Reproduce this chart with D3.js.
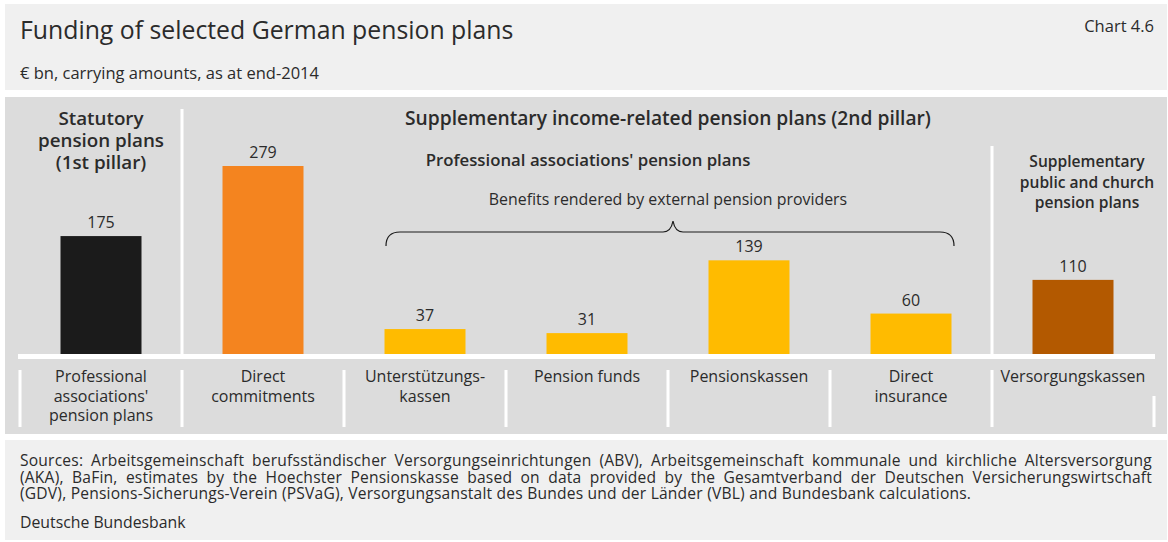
<!DOCTYPE html>
<html>
<head>
<meta charset="utf-8">
<script src="https://cdn.jsdelivr.net/npm/d3@7"></script>
<style>
  html, body { margin: 0; padding: 0; background: #ffffff; }
  svg { display: block; }
  text { font-family: "Open Sans", "Noto Sans", sans-serif; fill: #2b2b2b; }
</style>
</head>
<body>
<svg id="chart" width="1168" height="542"></svg>
<script>
// Categories along the axis (each may wrap onto several lines)
const categories = [
  ["Professional", "associations'", "pension plans"],
  ["Direct", "commitments"],
  ["Unterstützungs-", "kassen"],
  ["Pension funds"],
  ["Pensionskassen"],
  ["Direct", "insurance"],
  ["Versorgungskassen"]
];
// € bn, carrying amounts, end-2014
const values = [175, 279, 37, 31, 139, 60, 110];
// Group each bar belongs to (drives the colour)
const groups = ["statutory", "direct", "external", "external", "external", "external", "public"];
const groupColours = {
  statutory: "#1b1b1b",
  direct: "#f4841f",
  external: "#ffbb00",
  public: "#b35900"
};

const title = "Funding of selected German pension plans";
const chartNo = "Chart 4.6";
const subtitle = "€ bn, carrying amounts, as at end-2014";
const sourceLines = [
  "Sources: Arbeitsgemeinschaft berufsständischer Versorgungseinrichtungen (ABV), Arbeitsgemeinschaft kommunale und kirchliche Altersversorgung",
  "(AKA), BaFin, estimates by the Hoechster Pensionskasse based on data provided by the Gesamtverband der Deutschen Versicherungswirtschaft",
  "(GDV), Pensions-Sicherungs-Verein (PSVaG), Versorgungsanstalt des Bundes und der Länder (VBL) and Bundesbank calculations."
];
const publisher = "Deutsche Bundesbank";

const svg = d3.select("#chart");

// Background panels
svg.append("rect").attr("x", 5).attr("y", 4).attr("width", 1162).attr("height", 86).attr("fill", "#f0f0f0");
svg.append("rect").attr("x", 5).attr("y", 97).attr("width", 1162).attr("height", 337).attr("fill", "#dcdcdc");
svg.append("rect").attr("x", 5).attr("y", 440).attr("width", 1162).attr("height", 100).attr("fill", "#f0f0f0");

// Header texts
svg.append("text").attr("x", 20).attr("y", 39).attr("font-size", 24.8).attr("fill", "#1a1a1a").text(title);
svg.append("text").attr("x", 1154).attr("y", 32).attr("text-anchor", "end").attr("font-size", 16.5).text(chartNo);
svg.append("text").attr("x", 20).attr("y", 79).attr("font-size", 16.5).text(subtitle);

// Scales
const x = d3.scaleBand().domain(d3.range(categories.length)).range([20, 1154]).paddingInner(0).paddingOuter(0);
const y = d3.scaleLinear().domain([0, 279]).range([354, 166]);
const barW = x.bandwidth() * 0.5;

// Bars
svg.append("g").selectAll("rect").data(values).join("rect")
  .attr("x", (d, i) => x(i) + (x.bandwidth() - barW) / 2)
  .attr("y", d => y(d))
  .attr("width", barW)
  .attr("height", d => y(0) - y(d))
  .attr("fill", (d, i) => groupColours[groups[i]]);

// Value labels
svg.append("g").selectAll("text").data(values).join("text")
  .attr("x", (d, i) => x(i) + x.bandwidth() / 2)
  .attr("y", d => y(d) - 8)
  .attr("text-anchor", "middle")
  .attr("font-size", 16)
  .text(d => d);

// Baseline
svg.append("rect").attr("x", 18).attr("y", 354).attr("width", 1137).attr("height", 5).attr("fill", "#ffffff");

// Separators between category labels
const sepXs = d3.range(categories.length + 1).map(i => i < categories.length ? x(i) : x.range()[1]);
svg.append("g").selectAll("rect").data(sepXs).join("rect")
  .attr("x", d => d - 1.5)
  .attr("y", (d, i) => i === categories.length ? 396 : 370)
  .attr("width", 3)
  .attr("height", (d, i) => i === categories.length ? 31 : 57)
  .attr("fill", "#ffffff");

// Group dividers above the baseline
svg.append("rect").attr("x", x(1) - 1.5).attr("y", 109).attr("width", 3).attr("height", 250).attr("fill", "#ffffff");
svg.append("rect").attr("x", x(6) - 1.5).attr("y", 146).attr("width", 3).attr("height", 213).attr("fill", "#ffffff");

// Category labels
const catG = svg.append("g").selectAll("text").data(categories).join("text")
  .attr("text-anchor", "middle")
  .attr("font-size", 16);
catG.each(function (lines, i) {
  d3.select(this).selectAll("tspan").data(lines).join("tspan")
    .attr("x", x(i) + x.bandwidth() / 2)
    .attr("y", (l, j) => 382 + j * 19.5)
    .text(l => l);
});

// Group headings
function multiline(lines, cx, y0, lh, size, weight) {
  const t = svg.append("text").attr("text-anchor", "middle").attr("font-size", size)
    .attr("font-weight", weight).attr("fill", "#1a1a1a");
  t.selectAll("tspan").data(lines).join("tspan")
    .attr("x", cx).attr("y", (l, j) => y0 + j * lh).text(l => l);
}
const mid = (a, b) => (a + b) / 2;
multiline(["Statutory", "pension plans", "(1st pillar)"], x(0) + x.bandwidth() / 2, 124.5, 22, 18.8, 600);
multiline(["Supplementary income-related pension plans (2nd pillar)"], mid(x(1), x.range()[1]), 124.5, 22, 19.2, 600);
multiline(["Professional associations' pension plans"], mid(x(2), x(6)) - 80, 166, 20, 16.8, 600);
multiline(["Supplementary", "public and church", "pension plans"], x(6) + x.bandwidth() / 2 + 14, 167, 20.5, 15.6, 600);
multiline(["Benefits rendered by external pension providers"], mid(x(2), x(6)), 205, 20, 15.9, 400);

// Curly brace spanning the externally provided benefits
const bx0 = x(2) + 42, bx1 = x(6) - 38, bc = mid(bx0, bx1) + 3;
const by = 232, byEnd = 246, byTip = 221, r = 10;
const brace = d3.path();
brace.moveTo(bx0, byEnd);
brace.quadraticCurveTo(bx0, by, bx0 + r + 4, by);
brace.lineTo(bc - r, by);
brace.quadraticCurveTo(bc - 2, by, bc, byTip);
brace.quadraticCurveTo(bc + 2, by, bc + r, by);
brace.lineTo(bx1 - r - 4, by);
brace.quadraticCurveTo(bx1, by, bx1, byEnd);
svg.append("path").attr("d", brace.toString()).attr("fill", "none").attr("stroke", "#1a1a1a").attr("stroke-width", 1.2);

// Justified source note: all lines but the last are stretched to the full width
function justified(lines, x0, x1, yStart, lh, size, spacing) {
  const g = svg.append("g").attr("font-size", size).attr("letter-spacing", spacing);
  const probe = g.append("text").attr("font-size", size);
  const widthOf = s => { probe.text(s); return probe.node().getComputedTextLength(); };
  const spaceW = widthOf("a a") - widthOf("aa");
  const maxW = x1 - x0;
  const layout = lines.map(line => {
    const ws = line.split(" ");
    return { ws, widths: ws.map(widthOf) };
  });
  probe.remove();
  layout.forEach((ln, li) => {
    const yy = yStart + li * lh;
    const last = li === layout.length - 1;
    const total = d3.sum(ln.widths);
    const gap = last || ln.ws.length < 2 ? spaceW : (maxW - total) / (ln.ws.length - 1);
    let cx = x0;
    ln.ws.forEach((w, k) => {
      g.append("text").attr("x", cx).attr("y", yy).attr("font-size", size).text(w);
      cx += ln.widths[k] + gap;
    });
  });
}
justified(sourceLines, 20, 1152, 466, 16.7, 15.6, 0.2);
svg.append("text").attr("x", 20).attr("y", 528).attr("font-size", 15.8).text(publisher);
</script>
</body>
</html>
